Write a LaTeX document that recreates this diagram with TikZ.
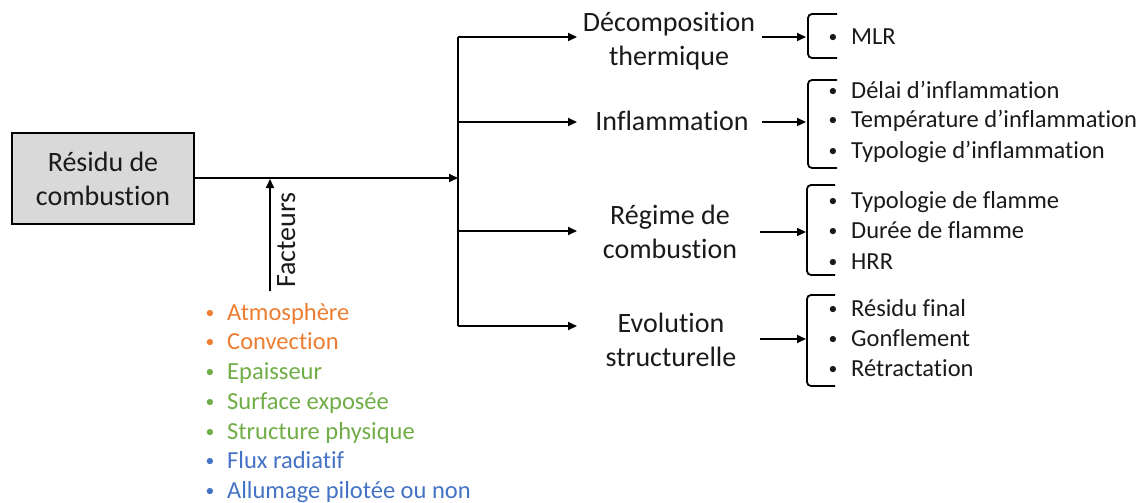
\documentclass[tikz,border=0pt]{standalone}
\usepackage{fontspec}
\setmainfont{Carlito}[Ligatures=NoCommon]
\usetikzlibrary{arrows.meta}
\definecolor{corange}{HTML}{ED7D31}
\definecolor{cgreen}{HTML}{70AD47}
\definecolor{cblue}{HTML}{4472C4}
\definecolor{boxgray}{HTML}{D9D9D9}
\definecolor{txt}{HTML}{1A1A1A}
\tikzset{
  conn/.style={line width=1.8pt, -{Triangle[length=9pt,width=8pt]}},
  plain/.style={line width=1.8pt},
  brk/.style={line width=1.8pt, rounded corners=4pt},
  title/.style={font=\fontsize{28}{34}\selectfont, text=txt, align=center, anchor=base, inner sep=0pt},
  item/.style={font=\fontsize{24.5}{30}\selectfont, text=txt, anchor=base west, inner sep=0pt},
  fitem/.style={font=\fontsize{24.5}{30}\selectfont, anchor=base west, inner sep=0pt},
  mainbox/.style={draw=black, line width=1.8pt, fill=boxgray, minimum width=182pt, minimum height=91pt, inner sep=0pt},
}
\newcommand{\smallbul}{\makebox[0pt][l]{\hspace*{1.5pt}\raisebox{2pt}{\scalebox{0.72}{•}}}}
\newcommand{\bul}[1]{\makebox[24pt][l]{\smallbul}#1}
\newcommand{\fbul}[1]{\makebox[23pt][l]{\smallbul}#1}
\begin{document}
\begin{tikzpicture}[x=1pt,y=-1pt]
\useasboundingbox (0,0) rectangle (1144,503);
% main box
\node[mainbox] (res) at (103,178.5) {};
\node[title] (restxt) at (103,205) {Résidu de\\combustion};
% trunk
\coordinate (bus) at (458,178);
\coordinate (bt) at (458,37);
\coordinate (bb) at (458,326);
\draw[conn] (res.east |- bus) -- (bus);
\draw[plain] (bt) -- (bb);
% factors arrow
\coordinate (fbot) at (270,291);
\coordinate (ftop) at (270,179);
\draw[conn] (fbot) -- (ftop);
\node[font=\fontsize{28}{34}\selectfont, text=txt, rotate=90, anchor=base west, inner sep=0pt] (fact) at (295,288) {Facteurs};
% factors list
\node[fitem, text=corange] (f1) at (204,320) {\fbul{Atmosphère}};
\node[fitem, text=corange] (f2) at (204,349) {\fbul{Convection}};
\node[fitem, text=cgreen] (f3) at (204,379) {\fbul{Epaisseur}};
\node[fitem, text=cgreen] (f4) at (204,409) {\fbul{Surface exposée}};
\node[fitem, text=cgreen] (f5) at (204,439) {\fbul{Structure physique}};
\node[fitem, text=cblue] (f6) at (204,468) {\fbul{Flux radiatif}};
\node[fitem, text=cblue] (f7) at (204,498) {\fbul{Allumage pilotée ou non}};
% titles
\node[title] (t1) at (669,66) {Décomposition\\thermique};
\node[title] (t2) at (672,131) {Inflammation};
\node[title] (t3) at (670,258) {Régime de\\combustion};
\node[title] (t4) at (671,366) {Evolution\\structurelle};
% branch arrows
\coordinate (a1) at (577,37);
\coordinate (a2) at (577,122);
\coordinate (a3) at (577,231);
\coordinate (a4) at (577,326);
\draw[conn] (bt) -- (a1);
\draw[conn] (bt |- a2) -- (a2);
\draw[conn] (bt |- a3) -- (a3);
\draw[conn] (bb) -- (a4);
% second arrows
\coordinate (s1a) at (762,37);  \coordinate (s1b) at (806,37);
\coordinate (s2a) at (762,122); \coordinate (s2b) at (806,122);
\coordinate (s3a) at (760,232); \coordinate (s3b) at (806,232);
\coordinate (s4a) at (760,339); \coordinate (s4b) at (806,339);
\draw[conn] (s1a) -- (s1b);
\draw[conn] (s2a) -- (s2b);
\draw[conn] (s3a) -- (s3b);
\draw[conn] (s4a) -- (s4b);
% brackets
\draw[brk] (837,14) -- (808,14) -- (808,58) -- (837,58);
\draw[brk] (837,80) -- (808,80) -- (808,168) -- (837,168);
\draw[brk] (835,185) -- (807,185) -- (807,275) -- (835,275);
\draw[brk] (835,295) -- (807,295) -- (807,386) -- (835,386);
% items
\node[item] (m1) at (827,45) {\bul{MLR}};
\node[item] (i1) at (827,99) {\bul{Délai d’inflammation}};
\node[item] (i2) at (827,128) {\bul{Température d’inflammation}};
\node[item] (i3) at (827,158) {\bul{Typologie d’inflammation}};
\node[item] (r1) at (827,208) {\bul{Typologie de flamme}};
\node[item] (r2) at (827,238) {\bul{Durée de flamme}};
\node[item] (r3) at (827,269) {\bul{HRR}};
\node[item] (e1) at (827,316) {\bul{Résidu final}};
\node[item] (e2) at (827,346) {\bul{Gonflement}};
\node[item] (e3) at (827,376) {\bul{Rétractation}};
\end{tikzpicture}
\end{document}
